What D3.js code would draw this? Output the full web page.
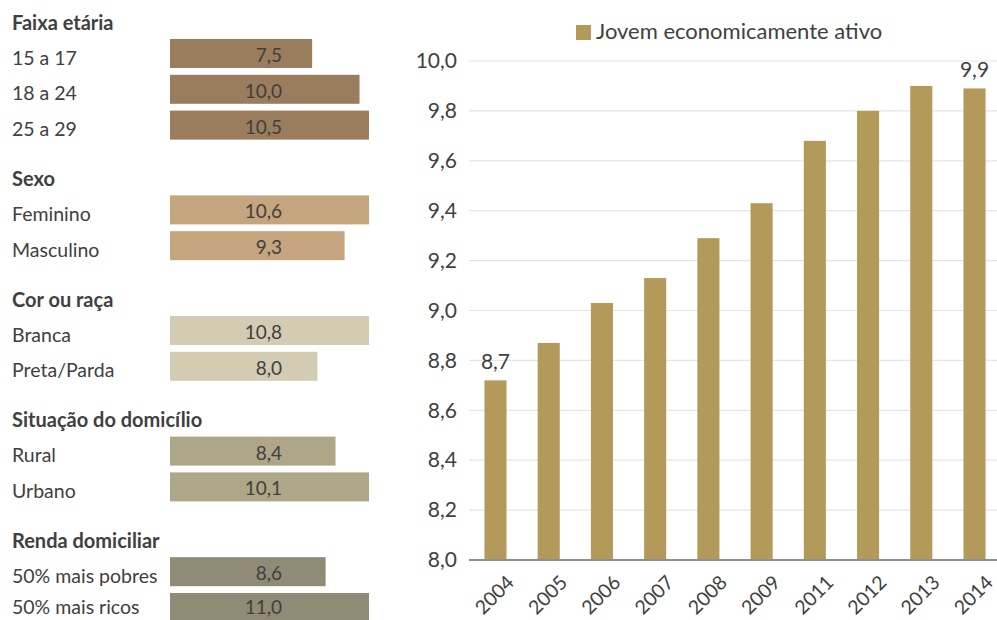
<!DOCTYPE html>
<html lang="pt">
<head>
<meta charset="utf-8">
<script src="https://cdn.jsdelivr.net/npm/d3@7/dist/d3.min.js"></script>
<style>
  html, body { margin: 0; padding: 0; background: #fff; }
  svg { display: block; font-family: Lato, "Open Sans", sans-serif; }
</style>
</head>
<body>
<svg id="chart" width="997" height="620"></svg>
<script>
// ---- Left panel: profile groups ----
const groupTitles = ["Faixa etária", "Sexo", "Cor ou raça", "Situação do domicílio", "Renda domiciliar"];
const groupLabels = [
  ["15 a 17", "18 a 24", "25 a 29"],
  ["Feminino", "Masculino"],
  ["Branca", "Preta/Parda"],
  ["Rural", "Urbano"],
  ["50% mais pobres", "50% mais ricos"]
];
const groupValues = [
  [7.5, 10.0, 10.5],
  [10.6, 9.3],
  [10.8, 8.0],
  [8.4, 10.1],
  [8.6, 11.0]
];

// ---- Right panel: yearly series ----
const years = ["2004", "2005", "2006", "2007", "2008", "2009", "2011", "2012", "2013", "2014"];
const jovemValues = [8.72, 8.87, 9.03, 9.13, 9.29, 9.43, 9.68, 9.80, 9.90, 9.89];
const yTicks = [8.0, 8.2, 8.4, 8.6, 8.8, 9.0, 9.2, 9.4, 9.6, 9.8, 10.0];
const seriesName = "Jovem economicamente ativo";
const labelledYears = ["2004", "2014"];

const groupColors = ["#9A7D5C", "#C4A57E", "#D3CCB3", "#ADA687", "#8F8B76"];
const barColor = "#B39A5B";
const textColor = "#404040";

const fmt = v => d3.format(".1f")(v).replace(".", ",");
const svg = d3.select("#chart");

// ---------- left panel ----------
const left = svg.append("g");
const barX0 = 170, barMaxW = 199, barH = 29, rowStep = 35.8, groupGap = 49, firstTop = 39;
let rowIndex = 0;
groupTitles.forEach((title, g) => {
  const labels = groupLabels[g];
  const values = groupValues[g];
  const groupTop = firstTop + rowIndex * rowStep + g * groupGap;
  const y = d3.scaleBand()
    .domain(labels)
    .range([groupTop, groupTop + labels.length * rowStep]);
  // each group is scaled to its own largest value
  const x = d3.scaleLinear().domain([0, d3.max(values)]).range([0, barMaxW]);

  const gg = left.append("g");
  gg.append("text")
    .attr("x", 12).attr("y", groupTop - 9.5)
    .attr("font-weight", 700).attr("font-size", 20)
    .attr("fill", textColor)
    .text(title);

  const rows = gg.selectAll("g.row").data(labels.map((l, i) => ({ l, v: values[i] })))
    .join("g").attr("class", "row");
  rows.append("rect")
    .attr("x", barX0)
    .attr("y", d => y(d.l))
    .attr("width", d => x(d.v))
    .attr("height", barH)
    .attr("fill", groupColors[g]);
  rows.append("text")
    .attr("x", 12)
    .attr("y", d => Math.min(y(d.l) + 25.5, 614))
    .attr("font-size", 19.5).attr("fill", textColor)
    .text(d => d.l);
  rows.append("text")
    .attr("x", 282)
    .attr("y", d => Math.min(y(d.l) + 23, 614))
    .attr("text-anchor", "end")
    .attr("font-size", 19).attr("fill", textColor)
    .text(d => fmt(d.v));

  rowIndex += labels.length;
});

// ---------- right panel ----------
const plot = { left: 469, right: 1001, top: 61, bottom: 560 };
const xb = d3.scaleBand().domain(years).range([plot.left, plot.right]).paddingInner(0.585).paddingOuter(0.29);
const yb = d3.scaleLinear().domain([8, 10]).range([plot.bottom, plot.top]);

const right = svg.append("g");

// gridlines
right.append("g")
  .selectAll("line").data(yTicks.filter(t => t > 8))
  .join("line")
  .attr("x1", plot.left).attr("x2", 997)
  .attr("y1", d => yb(d)).attr("y2", d => yb(d))
  .attr("stroke", "#E5E5E5").attr("stroke-width", 1.2);

// y axis labels
const yAxis = right.append("g")
  .attr("transform", `translate(${plot.left},0)`)
  .call(d3.axisLeft(yb).tickValues(yTicks).tickSize(0).tickPadding(12).tickFormat(fmt));
yAxis.select(".domain").remove();
yAxis.selectAll("text").attr("font-size", 21).attr("fill", textColor).attr("font-family", "Lato, sans-serif");

// bars
right.append("g")
  .selectAll("rect").data(years.map((yr, i) => ({ yr, v: jovemValues[i] })))
  .join("rect")
  .attr("x", d => xb(d.yr))
  .attr("width", xb.bandwidth())
  .attr("y", d => yb(d.v))
  .attr("height", d => yb(8) - yb(d.v))
  .attr("fill", barColor);

// value labels for first and last year
right.append("g")
  .selectAll("text").data(years.map((yr, i) => ({ yr, v: jovemValues[i] })).filter(d => labelledYears.includes(d.yr)))
  .join("text")
  .attr("x", d => xb(d.yr) + xb.bandwidth() / 2)
  .attr("y", d => yb(d.v) - 11)
  .attr("text-anchor", "middle")
  .attr("font-size", 21).attr("fill", textColor)
  .text(d => fmt(d.v));

// x axis baseline and rotated year labels
const xAxis = right.append("g")
  .attr("transform", `translate(0,${plot.bottom})`)
  .call(d3.axisBottom(xb).tickSize(0).tickPadding(0));
xAxis.select(".domain").attr("d", `M${plot.left},0H997`).attr("stroke", "#8E8E8E").attr("stroke-width", 2.2);
xAxis.selectAll(".tick text")
  .attr("font-size", 19.5).attr("fill", textColor).attr("font-family", "Lato, sans-serif")
  .attr("text-anchor", "end")
  .attr("dy", "0.71em")
  .attr("y", 0)
  .attr("transform", "translate(10,14) rotate(-45)");

// legend
const legend = right.append("g").attr("transform", "translate(576,25)");
legend.append("rect").attr("width", 15).attr("height", 15).attr("fill", barColor);
legend.append("text")
  .attr("x", 20).attr("y", 14)
  .attr("font-size", 22).attr("fill", textColor)
  .text(seriesName);
</script>
</body>
</html>
